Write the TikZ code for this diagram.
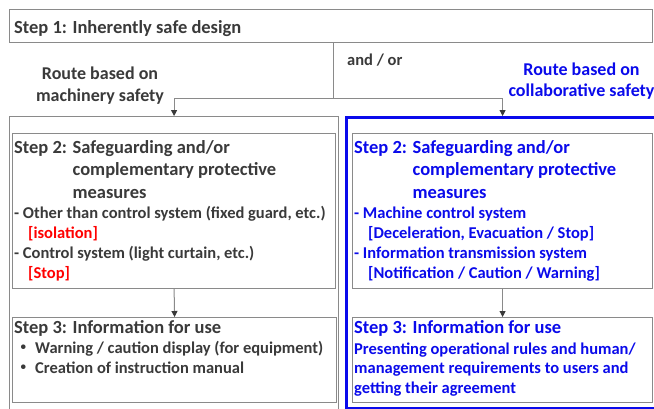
\documentclass[tikz,border=0pt]{standalone}
\usepackage{fontspec}
\setmainfont{Carlito}
\newfontfamily\cjkdot{Noto Sans CJK JP}
\usetikzlibrary{arrows.meta, positioning}
\definecolor{txtgray}{HTML}{3A3A3A}
\definecolor{linegray}{HTML}{8A8A8A}
\definecolor{safeblue}{HTML}{0A0AEB}
\definecolor{stopred}{HTML}{FF0000}

\begin{document}
\begin{tikzpicture}[x=1pt, y=-1pt,
  box/.style={draw=linegray, line width=1.2pt, anchor=north west, inner sep=0pt},
  title/.style={font=\bfseries\fontsize{18.5}{22.5}\selectfont, text=txtgray, inner sep=0pt, anchor=base west},
  body/.style={font=\bfseries\fontsize{16.5}{20}\selectfont, text=txtgray, inner sep=0pt, align=left, anchor=base west},
  arr/.style={-{Triangle[length=6pt, width=6pt, color=txtgray]}, draw=linegray, line width=1pt}
]
  \useasboundingbox (0,0) rectangle (654,408);
  \fill[white] (0,0) rectangle (654,408);

  % step 1 and the two routes (multi-line nodes sit on their last baseline)
  \node[box, minimum width=643pt, minimum height=33pt] (step1) at (9,9) {};
  \node[title] (step1txt) at (14,33) {Step 1: Inherently safe design};
  \node[box, minimum width=329pt, minimum height=300pt] (machroute) at (9,116) {};
  \node[box, draw=safeblue, line width=3pt, minimum width=320pt, minimum height=291pt] (collroute) at (345,116) {};

  \node[body, font=\bfseries\fontsize{18}{22}\selectfont, align=center, anchor=base] (machlbl) at (100,101) {Route based on\\machinery safety};
  \node[body, font=\bfseries\fontsize{18}{21}\selectfont, align=center, anchor=base, text=safeblue] (colllbl) at (581.5,96) {Route based on\\collaborative safety};
  \node[body] (andor) at (347,65) {and / or};

  % step 2 boxes
  \node[box, minimum width=323pt, minimum height=155pt] (ms2) at (12,133) {};
  \node[box, minimum width=300pt, minimum height=155pt] (cs2) at (352,133) {};
  \node[title] (ms2title) at (14,153) {\begin{tabular}[t]{@{}l@{ }l@{}}Step 2: & Safeguarding and/or\\ & complementary protective\\ & measures\end{tabular}};
  \node[title, text=safeblue] (cs2title) at (354,153) {\begin{tabular}[t]{@{}l@{ }l@{}}Step 2: & Safeguarding and/or\\ & complementary protective\\ & measures\end{tabular}};
  \node[body] (ms2list) at (14,278) {- Other than control system (fixed guard, etc.)\\
    \hspace*{14pt}{\color{stopred}[isolation]}\\
    - Control system (light curtain, etc.)\\
    \hspace*{14pt}{\color{stopred}[Stop]}};
  \node[body, text=safeblue] (cs2list) at (354,278) {- Machine control system\\
    \hspace*{14pt}[Deceleration, Evacuation / Stop]\\
    - Information transmission system\\
    \hspace*{14pt}[Notification / Caution / Warning]};

  % step 3 boxes
  \node[box, minimum width=324pt, minimum height=85pt] (ms3) at (12,317) {};
  \node[box, minimum width=300pt, minimum height=85pt] (cs3) at (352,317) {};
  \node[title] (ms3title) at (14,333) {Step 3: Information for use};
  \node[title, text=safeblue] (cs3title) at (354,333) {Step 3: Information for use};
  \node[body] (ms3list) at (15,373) {{\cjkdot ・}\hspace{3.5pt}Warning / caution display (for equipment)\\
    {\cjkdot ・}\hspace{3.5pt}Creation of instruction manual};
  \node[body, text=safeblue, font=\bfseries\fontsize{16.5}{19.5}\selectfont] (cs3list) at (354,393) {Presenting operational rules and human/\\
    management requirements to users and\\
    getting their agreement};

  % connectors
  \coordinate (split) at (333,98);
  \draw[draw=linegray, line width=1pt] (step1.south -| split) -- (split);
  \draw[arr] (split) -| (machroute.north);
  \draw[arr] (split) -| (cs2.north |- collroute.north);
  \draw[arr] (ms2.south) -- (ms3.north);
  \draw[arr] (cs2.south) -- (cs3.north);
\end{tikzpicture}
\end{document}
